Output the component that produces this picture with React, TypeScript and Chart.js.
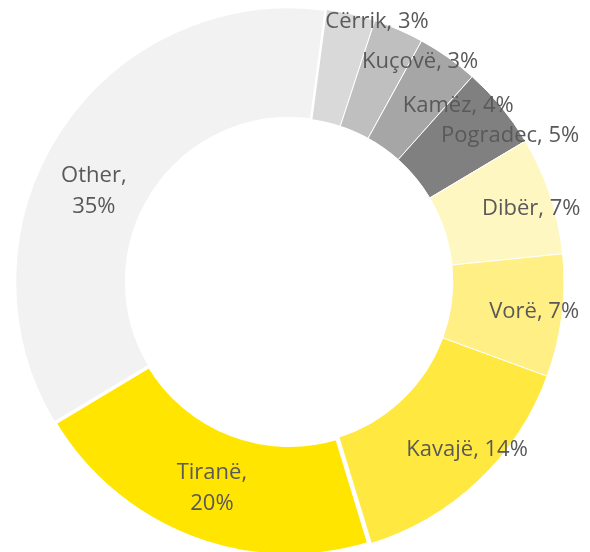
import React, { useEffect, useRef } from "react";
import { Chart, registerables } from "chart.js";

Chart.register(...registerables);

// Categories in clockwise order, starting just right of 12 o'clock
const categories = ["Cërrik", "Kuçovë", "Kamëz", "Pogradec", "Dibër", "Vorë", "Kavajë", "Tiranë", "Other"];
// Share of each slice (percent)
const shareValues = [2.92, 2.96, 3.6, 4.86, 6.94, 7.22, 14.67, 21.11, 35.72];
// Percentages as printed on the labels
const shownPercents = [3, 3, 4, 5, 7, 7, 14, 20, 35];
// Labels that are wrapped onto two lines
const twoLineLabels = ["Tiranë", "Other"];

const sliceColors = ["#D9D9D9", "#BFBFBF", "#A6A6A6", "#808080", "#FFF7C2", "#FFEF85", "#FFE941", "#FFE500", "#F2F2F2"];
const sliceBorders = [1, 1, 1, 1, 1, 1, 1, 4.5, 2.5];
// label placement nudges relative to each slice's centre point (dx, baseline dy)
const labelNudges = [
  [38.8, -40.2],
  [43.6, -12.7],
  [42.4, 9.2],
  [51.8, -0.2],
  [33.8, 2.2],
  [27.5, 9.1],
  [27.2, 15.6],
  [0.9, -6.7],
  [-12.7, 20.6],
];

const labelPlugin = {
  id: "sliceLabels",
  afterDatasetsDraw(chart: any) {
    const ctx = chart.ctx as CanvasRenderingContext2D;
    const meta = chart.getDatasetMeta(0);
    ctx.save();
    ctx.font = "22px 'Open Sans'";
    ctx.fillStyle = "#595959";
    ctx.textAlign = "center";
    ctx.textBaseline = "alphabetic";
    meta.data.forEach((arc: any, i: number) => {
      const p = arc.tooltipPosition(false);
      const name = categories[i];
      const pct = shownPercents[i] + "%";
      const lines = twoLineLabels.includes(name) ? [name + ",", pct] : [name + ", " + pct];
      const [dx, dy] = labelNudges[i];
      lines.forEach((line, j) => ctx.fillText(line, p.x + dx, p.y + dy + j * 31));
    });
    ctx.restore();
  },
};

export default function App() {
  const ref = useRef<HTMLCanvasElement | null>(null);
  useEffect(() => {
    if (!ref.current) return;
    const chart = new Chart(ref.current, {
      type: "doughnut",
      data: {
        labels: categories,
        datasets: [
          {
            data: shareValues,
            backgroundColor: sliceColors,
            borderColor: "#FFFFFF",
            borderWidth: sliceBorders,
            clip: false,
          } as any,
        ],
      },
      options: {
        responsive: false,
        animation: false,
        devicePixelRatio: 1,
        rotation: 7.6,
        cutout: "59.5%",
        radius: 274.5,
        layout: { padding: { left: 0, right: 11, top: 11, bottom: 0 } },
        plugins: { legend: { display: false }, tooltip: { enabled: false } },
        events: [],
      } as any,
      plugins: [labelPlugin],
    });
    return () => chart.destroy();
  }, []);
  return (
    <div style={{ position: "absolute", left: 0, top: 0, width: 590, height: 552, overflow: "hidden", background: "#fff" }}>
      <canvas ref={ref} width={590} height={552} style={{ display: "block" }} />
    </div>
  );
}
